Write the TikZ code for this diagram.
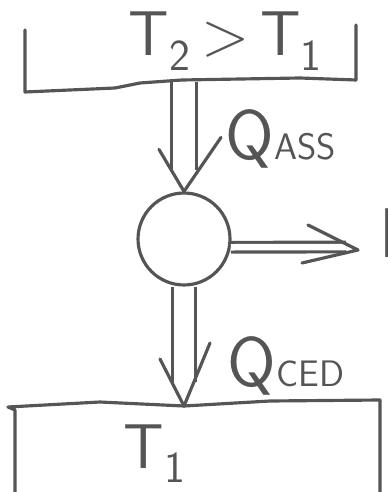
\documentclass[tikz,border=0pt]{standalone}
\usepackage{tikz}
\usetikzlibrary{arrows.meta,calc,positioning}
\definecolor{pencil}{HTML}{555555}

\begin{document}
\begin{tikzpicture}[x=0.02cm,y=-0.02cm,pencil,line width=1.8pt,line cap=round,line join=round,
  heatpipe/.style={double=white,double distance=#1,line cap=butt},
  bigtxt/.style={font=\sffamily\fontsize{40}{40}\selectfont,inner sep=0pt},
  tempstxt/.style={font=\sffamily\fontsize{36}{36}\selectfont,inner sep=0pt}]
\useasboundingbox (0,0) rectangle (387,492);
% hot reservoir
\draw (25,30)--(25,92)--(115,88)--(140,83)--(182,80)--(300,78)--(356,80)--(356,25);
\node[tempstxt,anchor=base west] (hot) at (127,56){T\textsubscript{2}\,>\,T\textsubscript{1}};
\coordinate (hotout) at (184,82);
% engine
\node[circle,draw,minimum size=1.84cm,inner sep=0pt] (eng) at (184,239){};
% cold reservoir
\draw (15,492)--(15,410)--(8,407)--(100,402)--(184,406)--(270,401)--(380,400)--(380,492);
\node[tempstxt,anchor=base west] (cold) at (122,468){T\textsubscript{1}};
\coordinate (coldin) at (184,406);
\coordinate (worktip) at (358,250);
\node[bigtxt,anchor=base west] (work) at (378,258){L};

% heat in
\draw[heatpipe=0.43cm] (hotout) -- ($(eng.north)+(0,-21)$);
\draw ($(eng.north)+(-25,-42)$) -- (eng.north) -- ($(eng.north)+(37,-54)$);
\node[bigtxt,anchor=base west] (qass) at (224,160){Q{\fontsize{21}{21}\selectfont ASS}};

% work out
\draw[heatpipe=0.13cm] (eng.-10) -- ($(worktip)+(-12,-3)$);
\draw ($(worktip)+(-50,-25)$) -- (worktip) -- ($(worktip)+(-56,13)$);

% heat out
\draw[heatpipe=0.39cm] (eng.south) -- ($(coldin)+(0,-24)$);
\draw ($(coldin)+(-24,-47)$) -- (coldin) -- ($(coldin)+(26,-63)$);
\node[bigtxt,anchor=base west] (qced) at (226,386){Q{\fontsize{21}{21}\selectfont CED}};
\end{tikzpicture}
\end{document}
